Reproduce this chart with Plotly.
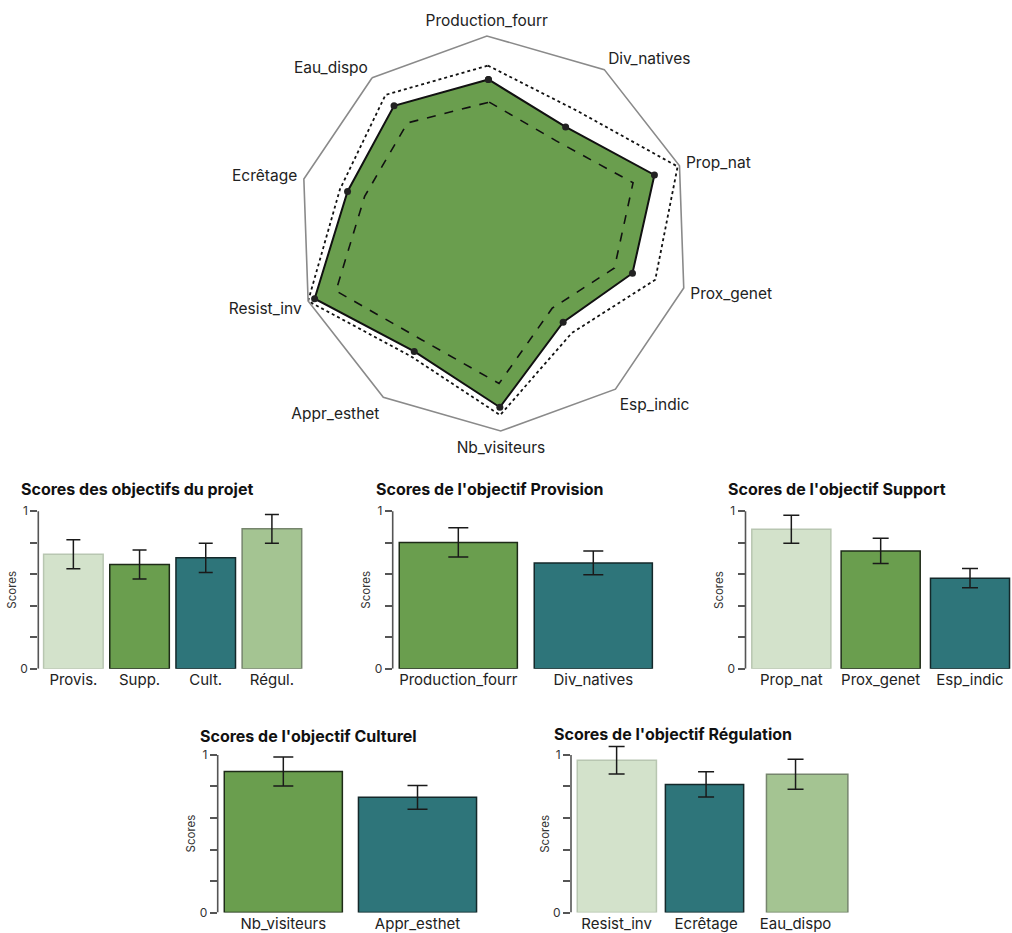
import plotly.graph_objects as go

W, H = 1012, 933
HE = 926.5   # effective rendered height used for paper-coordinate conversion
DY = 2.5     # small vertical correction (px)
FONT = "Inter"

# ---------------- Radar data ----------------
radar_cats = ["Production_fourr", "Div_natives", "Prop_nat", "Prox_genet", "Esp_indic",
              "Nb_visiteurs", "Appr_esthet", "Resist_inv", "Ecrêtage", "Eau_dispo"]
radar_mean = [0.78, 0.65, 0.865, 0.73, 0.57, 0.88, 0.72, 0.965, 0.77, 0.82]
radar_upper = [0.85, 0.75, 0.99, 0.85, 0.64, 0.92, 0.75, 1.0, 0.81, 0.89]
radar_lower = [0.665, 0.565, 0.75, 0.635, 0.48, 0.76, 0.65, 0.85, 0.68, 0.71]

# ---------------- Bar data ----------------
proj_cats = ["Provis.", "Supp.", "Cult.", "Régul."]
proj_vals = [0.727, 0.662, 0.704, 0.888]
proj_err = [0.092, 0.092, 0.093, 0.091]

prov_cats = ["Production_fourr", "Div_natives"]
prov_vals = [0.802, 0.672]
prov_err = [0.093, 0.075]

supp_cats = ["Prop_nat", "Prox_genet", "Esp_indic"]
supp_vals = [0.885, 0.748, 0.575]
supp_err = [0.089, 0.080, 0.061]

cult_cats = ["Nb_visiteurs", "Appr_esthet"]
cult_vals = [0.895, 0.731]
cult_err = [0.092, 0.075]

regu_cats = ["Resist_inv", "Ecrêtage", "Eau_dispo"]
regu_vals = [0.966, 0.813, 0.878]
regu_err = [0.087, 0.080, 0.095]

y_tickvals = [0, 0.2, 0.4, 0.6, 0.8, 1.0]
y_ticktext = ["0", "", "", "", "", "1"]

# colours
LIGHT, LIGHT_L = "#d3e2cb", "#b8c6b1"
GREEN, GREEN_L = "#6a9e4e", "#1e2b18"
TEAL, TEAL_L = "#2e757a", "#14282a"
MID, MID_L = "#a4c492", "#76856d"


def py(pix):
    """pixel row -> paper y"""
    return (HE - (pix + DY)) / HE


fig = go.Figure()

# ---------------- Radar ----------------
def closed(v):
    return list(v) + [v[0]]

theta = closed(radar_cats)
fig.add_trace(go.Scatterpolar(r=closed(radar_mean), theta=theta, mode="none",
                              fill="toself", fillcolor=GREEN, showlegend=False,
                              hoverinfo="skip"))
fig.add_trace(go.Scatterpolar(r=closed(radar_lower), theta=theta, mode="lines",
                              line=dict(color="#111", width=1.6, dash="dash"),
                              showlegend=False))
fig.add_trace(go.Scatterpolar(r=closed(radar_upper), theta=theta, mode="lines",
                              line=dict(color="#111", width=1.8, dash="dot"),
                              showlegend=False))
fig.add_trace(go.Scatterpolar(r=closed(radar_mean), theta=theta, mode="lines+markers",
                              line=dict(color="#111", width=2),
                              marker=dict(color="#222", size=7),
                              showlegend=False))

cx, cy, R = 493.8, 232.6, 199
fig.update_layout(polar=dict(
    domain=dict(x=[(cx - R) / W, (cx + R) / W], y=[py(cy + R), py(cy - R)]),
    gridshape="linear",
    bgcolor="white",
    radialaxis=dict(visible=False, range=[0, 1]),
    angularaxis=dict(direction="clockwise", rotation=92, showgrid=False,
                     showline=True, linecolor="#8a8a8a", linewidth=1.6,
                     ticks="outside", ticklen=3, tickcolor="rgba(0,0,0,0)",
                     tickfont=dict(family=FONT, size=15.5, color="#222")),
))

# ---------------- Bar panels ----------------
panels = [
    dict(c=proj_cats, v=proj_vals, e=proj_err, col=[LIGHT, GREEN, TEAL, MID],
         lc=[LIGHT_L, GREEN_L, TEAL_L, MID_L], px=(38.3, 305.0), xr=[-0.53, 3.5], row=1,
         title="Scores des objectifs du projet", tx=19, ty=490, yt=11.7, cap=7, bw=0.9),
    dict(c=prov_cats, v=prov_vals, e=prov_err, col=[GREEN, TEAL],
         lc=[GREEN_L, TEAL_L], px=(392.7, 660.8), xr=[-0.486, 1.5], row=1,
         title="Scores de l'objectif Provision", tx=373.5, ty=490, yt=365.7, cap=10, bw=0.875),
    dict(c=supp_cats, v=supp_vals, e=supp_err, col=[LIGHT, GREEN, TEAL],
         lc=[LIGHT_L, GREEN_L, TEAL_L], px=(745.5, 1012.0), xr=[-0.513, 2.47], row=1,
         title="Scores de l'objectif Support", tx=726, ty=490, yt=719, cap=8, bw=0.885),
    dict(c=cult_cats, v=cult_vals, e=cult_err, col=[GREEN, TEAL],
         lc=[GREEN_L, TEAL_L], px=(217.7, 484.6), xr=[-0.489, 1.5], row=2,
         title="Scores de l'objectif Culturel", tx=197.5, ty=739, yt=190.7, cap=10, bw=0.88),
    dict(c=regu_cats, v=regu_vals, e=regu_err, col=[LIGHT, TEAL, MID],
         lc=[LIGHT_L, TEAL_L, MID_L], px=(571.0, 851.0), xr=[-0.51, 2.62], row=2,
         title="Scores de l'objectif Régulation", tx=551.5, ty=737, yt=545, cap=8, bw=0.88,
         offset=[-0.44, -0.455, -0.325], width=[0.885, 0.875, 0.91]),
]

row_px = {1: (671.0, 512.3), 2: (916.5, 757.8)}  # pixel of y=0, y=1
YMAX = 1.07

annotations = []
shapes = []
for i, p in enumerate(panels):
    n = "" if i == 0 else str(i + 1)
    xa, ya = "x" + n, "y" + n
    y0, y1 = row_px[p["row"]]
    ytop = y0 - (y0 - y1) * YMAX
    xdom = [p["px"][0] / W, min(p["px"][1] / W, 1.0)]
    ydom = [py(y0), py(ytop)]
    xpos = list(range(len(p["c"])))

    bar_kw = dict(x=xpos, y=p["v"], marker=dict(color=p["col"], line=dict(color=p["lc"], width=1.5)),
                  xaxis=xa, yaxis=ya, showlegend=False)
    if "offset" in p:
        bar_kw["offset"] = p["offset"]
        bar_kw["width"] = p["width"]
    else:
        bar_kw["width"] = p["bw"]
    fig.add_trace(go.Bar(**bar_kw))
    fig.add_trace(go.Scatter(x=xpos, y=p["v"], mode="markers",
                             marker=dict(size=1, color="rgba(0,0,0,0)"),
                             error_y=dict(type="data", array=p["e"], color="#1a1a1a",
                                          thickness=1.5, width=p["cap"]),
                             xaxis=xa, yaxis=ya, showlegend=False, hoverinfo="skip"))

    fig.layout["xaxis" + n] = dict(domain=xdom, range=p["xr"], anchor=ya,
                                   tickvals=xpos, ticktext=p["c"], showline=False,
                                   showgrid=False, zeroline=False, ticks="",
                                   tickfont=dict(family=FONT, size=15, color="#222"))
    fig.layout["yaxis" + n] = dict(domain=ydom, range=[0, YMAX], anchor=xa,
                                   tickvals=y_tickvals, ticktext=y_ticktext,
                                   showline=False, showgrid=False, zeroline=False,
                                   ticks="outside", ticklen=7, tickwidth=1.5, tickcolor="#555",
                                   tickfont=dict(family=FONT, size=12, color="#333"))
    shapes.append(dict(type="line", xref=xa + " domain", yref=ya, x0=0, x1=0, y0=0, y1=1,
                       line=dict(color="#555", width=1.6)))
    annotations.append(dict(text="<b>" + p["title"] + "</b>", xref="paper", yref="paper",
                            x=p["tx"] / W, y=py(p["ty"]), xanchor="left", yanchor="middle",
                            showarrow=False, font=dict(family=FONT, size=16, color="#111")))
    annotations.append(dict(text="Scores", xref="paper", yref="paper",
                            x=p["yt"] / W, y=py((y0 + y1) / 2), xanchor="center",
                            yanchor="middle", textangle=-90, showarrow=False,
                            font=dict(family=FONT, size=11.5, color="#333")))

fig.update_layout(width=W, height=H, margin=dict(l=0, r=0, t=0, b=0),
                  paper_bgcolor="white", plot_bgcolor="white",
                  font=dict(family=FONT, color="#222"),
                  annotations=annotations, shapes=shapes, bargap=0.1)

fig.write_html("out.html")
